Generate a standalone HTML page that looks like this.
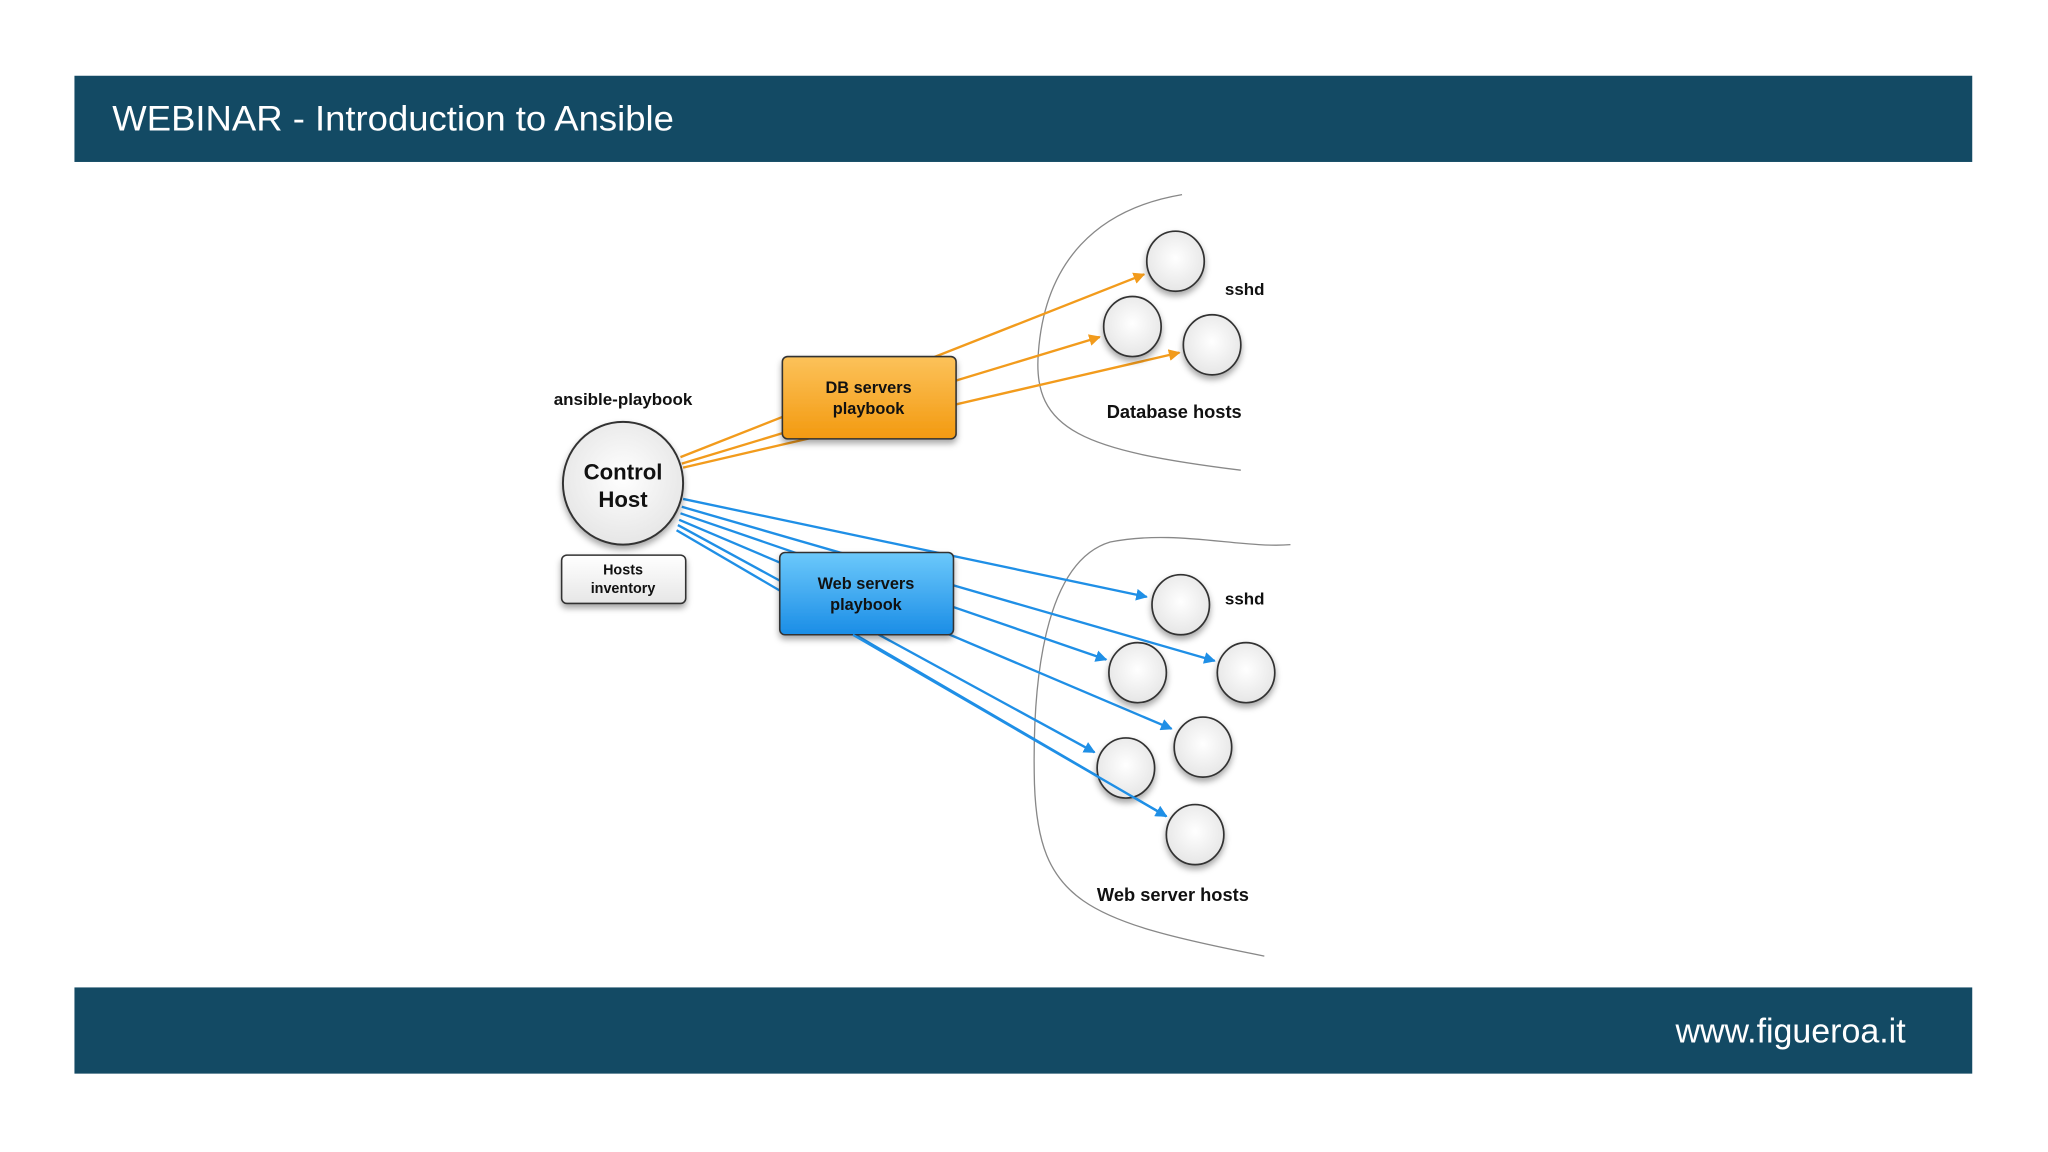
<!DOCTYPE html>
<html><head><meta charset="utf-8"><style>
html,body{margin:0;padding:0;background:#fff;}
svg{display:block;}
text{font-family:"Liberation Sans",Arial,sans-serif;}
</style></head><body>
<svg width="2048" height="1152" viewBox="0 0 1568 882" xmlns="http://www.w3.org/2000/svg">
<defs>
<linearGradient id="og" x1="0" y1="0" x2="0" y2="1"><stop offset="0" stop-color="#fcc25a"/><stop offset="1" stop-color="#f39a10"/></linearGradient>
<linearGradient id="bg" x1="0" y1="0" x2="0" y2="1"><stop offset="0" stop-color="#6cc9fb"/><stop offset="1" stop-color="#1a8de6"/></linearGradient>
<radialGradient id="cg" cx="0.5" cy="0.45" r="0.6"><stop offset="0" stop-color="#ffffff"/><stop offset="1" stop-color="#e4e4e4"/></radialGradient>
<linearGradient id="hg" x1="0" y1="0" x2="0" y2="1"><stop offset="0" stop-color="#ffffff"/><stop offset="1" stop-color="#e6e6e6"/></linearGradient>
<marker id="ao" viewBox="0 0 10 10" refX="9" refY="5" markerWidth="9" markerHeight="9" markerUnits="userSpaceOnUse" orient="auto"><path d="M0,0 L10,5 L0,10 z" fill="#f29b1c"/></marker>
<marker id="ab" viewBox="0 0 10 10" refX="9" refY="5" markerWidth="9" markerHeight="9" markerUnits="userSpaceOnUse" orient="auto"><path d="M0,0 L10,5 L0,10 z" fill="#1f8fe6"/></marker>
<filter id="sh" x="-20%" y="-20%" width="140%" height="150%"><feDropShadow dx="0" dy="3" stdDeviation="2.5" flood-color="#000" flood-opacity="0.35"/></filter>
</defs>
<rect width="1568" height="882" fill="#fff"/>
<rect x="57" y="58" width="1453" height="66" fill="#134a64"/>
<text x="86" y="100" font-size="27" fill="#fff" textLength="430" lengthAdjust="spacingAndGlyphs">WEBINAR - Introduction to Ansible</text>
<rect x="57" y="756" width="1453" height="66" fill="#134a64"/>
<text x="1459" y="798" font-size="26" fill="#fff" text-anchor="end">www.figueroa.it</text>

<path d="M905,149 C840,160 800,200 795,270 C790,330 830,345 950,360" fill="none" stroke="#888" stroke-width="1"/>
<path d="M988,417 C950,420 900,405 850,415 C800,430 790,520 792,600 C795,690 830,705 968,732" fill="none" stroke="#888" stroke-width="1"/>

<g stroke="#f29b1c" stroke-width="1.8" fill="none" marker-end="url(#ao)">
<line x1="521" y1="350" x2="876" y2="210"/>
<line x1="522" y1="355" x2="842" y2="258"/>
<line x1="523" y1="358" x2="903" y2="270"/>
</g>
<g stroke="#1f8fe6" stroke-width="1.8" fill="none" marker-end="url(#ab)">
<line x1="523" y1="382" x2="878" y2="457"/>
<line x1="522" y1="388" x2="930" y2="506"/>
<line x1="521" y1="393" x2="847" y2="505"/>
<line x1="520" y1="398" x2="897" y2="558"/>
<line x1="519" y1="402" x2="838" y2="576"/>
<line x1="518" y1="406" x2="893" y2="625"/>
</g>

<ellipse cx="477" cy="370" rx="46" ry="47" fill="url(#cg)" stroke="#333" stroke-width="1.5" filter="url(#sh)"/>
<text x="477" y="367" font-size="17" font-weight="bold" text-anchor="middle" fill="#111">Control</text>
<text x="477" y="388" font-size="17" font-weight="bold" text-anchor="middle" fill="#111">Host</text>
<text x="477" y="310" font-size="13" font-weight="bold" text-anchor="middle" fill="#111">ansible-playbook</text>
<rect x="430" y="425" width="95" height="37" rx="4" fill="url(#hg)" stroke="#333" stroke-width="1.2" filter="url(#sh)"/>
<text x="477" y="440" font-size="11" font-weight="bold" text-anchor="middle" fill="#111">Hosts</text>
<text x="477" y="454" font-size="11" font-weight="bold" text-anchor="middle" fill="#111">inventory</text>

<rect x="599" y="273" width="133" height="63" rx="4" fill="url(#og)" stroke="#333" stroke-width="1.2" filter="url(#sh)"/>
<text x="665" y="301" font-size="12.5" font-weight="bold" text-anchor="middle" fill="#111">DB servers</text>
<text x="665" y="317" font-size="12.5" font-weight="bold" text-anchor="middle" fill="#111">playbook</text>
<rect x="597" y="423" width="133" height="63" rx="4" fill="url(#bg)" stroke="#333" stroke-width="1.2" filter="url(#sh)"/>
<text x="663" y="451" font-size="12.5" font-weight="bold" text-anchor="middle" fill="#111">Web servers</text>
<text x="663" y="467" font-size="12.5" font-weight="bold" text-anchor="middle" fill="#111">playbook</text>

<g fill="url(#cg)" stroke="#333" stroke-width="1.3" filter="url(#sh)">
<ellipse cx="900" cy="200" rx="22" ry="23"/>
<ellipse cx="867" cy="250" rx="22" ry="23"/>
<ellipse cx="928" cy="264" rx="22" ry="23"/>
<ellipse cx="904" cy="463" rx="22" ry="23"/>
<ellipse cx="871" cy="515" rx="22" ry="23"/>
<ellipse cx="954" cy="515" rx="22" ry="23"/>
<ellipse cx="921" cy="572" rx="22" ry="23"/>
<ellipse cx="862" cy="588" rx="22" ry="23"/>
<ellipse cx="915" cy="639" rx="22" ry="23"/>
</g>
<line x1="653" y1="486" x2="893" y2="625" stroke="#1f8fe6" stroke-width="1.8" marker-end="url(#ab)"/>

<text x="953" y="226" font-size="13" font-weight="bold" text-anchor="middle" fill="#111">sshd</text>
<text x="953" y="463" font-size="13" font-weight="bold" text-anchor="middle" fill="#111">sshd</text>
<text x="899" y="320" font-size="14" font-weight="bold" text-anchor="middle" fill="#111">Database hosts</text>
<text x="898" y="690" font-size="14" font-weight="bold" text-anchor="middle" fill="#111">Web server hosts</text>
</svg>
</body></html>
